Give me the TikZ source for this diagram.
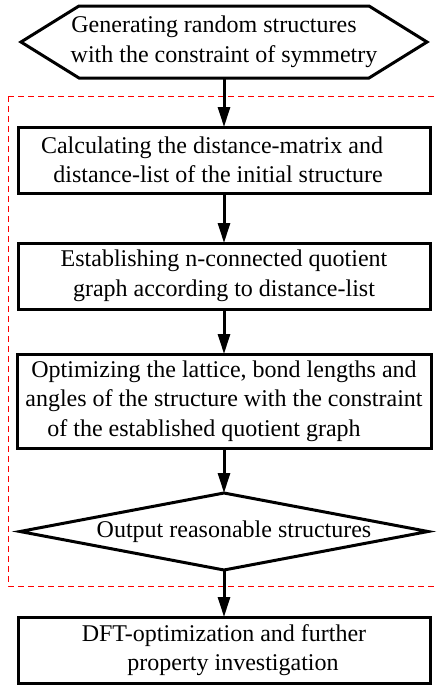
\documentclass[tikz,border=0pt]{standalone}
\usepackage{fontspec}
\setmainfont{Liberation Serif}
\usetikzlibrary{arrows.meta,positioning}
\definecolor{frame}{HTML}{FF0000}

\begin{document}
\begin{tikzpicture}[x=1pt,y=1pt,>={Triangle[length=20pt,width=12pt]},
  txt/.style={font=\fontsize{24}{29.5}\selectfont,align=center,inner sep=1pt,outer sep=0pt},
  stepbox/.style={txt,draw,line width=3pt,minimum width=412pt,minimum height=66pt},
  flow/.style={->,line width=3pt}]
\useasboundingbox (0,0) rectangle (437,-688);
\draw[frame,line width=1pt,dash pattern=on 6pt off 4pt] (8,-96) rectangle (446,-586);
\node[txt,minimum width=406pt,minimum height=72pt] (gen) at (224,-42) {Generating random structures\hspace*{20pt}\\with the constraint of symmetry};
\draw[line width=3pt] (gen.west) -- ([xshift=58pt]gen.north west) -- ([xshift=-58pt]gen.north east) -- (gen.east) -- ([xshift=-58pt]gen.south east) -- ([xshift=58pt]gen.south west) -- cycle;
\node[stepbox,below=49pt of gen] (calc) {Calculating the distance-matrix and\hspace*{24pt}\\distance-list of the initial structure\hspace*{12pt}};
\node[stepbox,below=50pt of calc] (graph) {Establishing n-connected quotient\\graph according to distance-list};
\node[stepbox,below=45pt of graph,minimum width=414pt,minimum height=94pt] (optim) {Optimizing the lattice, bond lengths and\\angles of the structure with the constraint\\of the established quotient graph\hspace*{40pt}};
\node[txt,below=45pt of optim,minimum width=408pt,minimum height=77pt] (out) {\hspace*{20pt}Output reasonable structures};
\draw[line width=3pt] (out.north) -- (out.east) -- (out.south) -- (out.west) -- cycle;
\node[stepbox,below=47pt of out] (dft) {DFT-optimization and further\\\hspace*{18pt}property investigation};
\draw[flow] (gen) -- (calc);
\draw[flow] (calc) -- (graph);
\draw[flow] (graph) -- (optim);
\draw[flow] (optim) -- (out);
\draw[flow] (out) -- (dft);
\end{tikzpicture}
\end{document}
